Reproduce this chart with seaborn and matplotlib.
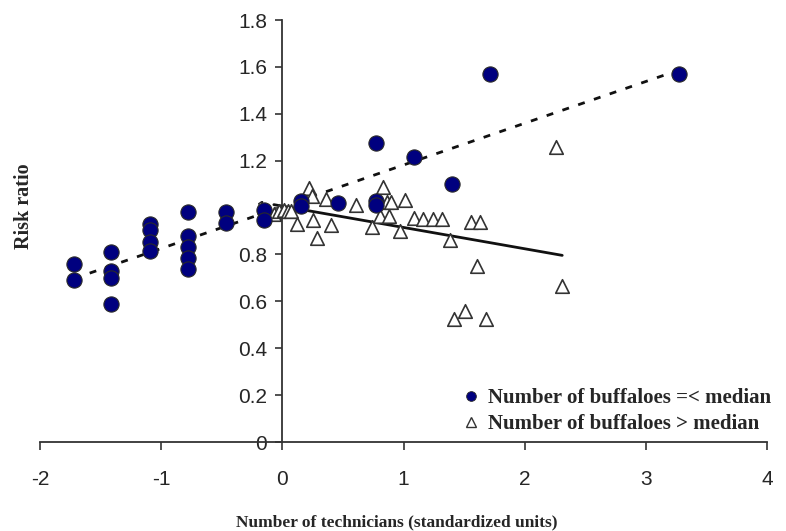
import numpy as np
import pandas as pd
import matplotlib
matplotlib.use("Agg")
import matplotlib.pyplot as plt
from matplotlib.lines import Line2D
from matplotlib.ticker import FuncFormatter
import seaborn as sns

# Number of buffaloes =< median (filled circles)
low_x = [-1.72, -1.72,
         -1.41, -1.41, -1.41, -1.41,
         -1.09, -1.09, -1.09, -1.09,
         -0.78, -0.78, -0.78, -0.78, -0.78,
         -0.465, -0.465,
         -0.155, -0.155,
         0.155, 0.155,
         0.463,
         0.777, 0.777, 0.777,
         1.09, 1.397, 1.713, 3.27]
low_y = [0.76, 0.69,
         0.81, 0.73, 0.70, 0.59,
         0.93, 0.905, 0.855, 0.815,
         0.98, 0.88, 0.83, 0.785, 0.74,
         0.98, 0.935,
         0.99, 0.945,
         1.03, 1.005,
         1.02,
         1.275, 1.03, 1.01,
         1.215, 1.10, 1.57, 1.57]

# Number of buffaloes > median (open triangles)
high_x = [-0.07, -0.025, 0.01, 0.047, 0.074, 0.12, 0.22, 0.245, 0.25, 0.287,
          0.36, 0.405, 0.61, 0.744, 0.81, 0.83, 0.865, 0.898, 0.88, 0.97,
          1.01, 1.085, 1.16, 1.24, 1.32, 1.385, 1.42, 1.507, 1.678, 1.56,
          1.63, 1.61, 2.256, 2.31]
high_y = [0.971, 0.985, 0.99, 0.985, 0.985, 0.93, 1.082, 1.05, 0.947, 0.87,
          1.035, 0.926, 1.011, 0.916, 0.964, 1.087, 1.025, 1.025, 0.964, 0.898,
          1.032, 0.955, 0.951, 0.951, 0.951, 0.86, 0.523, 0.56, 0.523, 0.94,
          0.94, 0.751, 1.257, 0.666]

legend_labels = ["Number of buffaloes =< median", "Number of buffaloes > median"]
x_ticks = [-2, -1, 0, 1, 2, 3, 4]
y_ticks = [0, 0.2, 0.4, 0.6, 0.8, 1.0, 1.2, 1.4, 1.6, 1.8]

low_df = pd.DataFrame({"x": low_x, "y": low_y})
high_df = pd.DataFrame({"x": high_x, "y": high_y})

sns.set_style("white")
plt.rcParams["axes.unicode_minus"] = False
plt.rcParams["font.family"] = ["Liberation Sans", "DejaVu Sans"]

W, H = 786, 531
fig = plt.figure(figsize=(W / 100, H / 100), dpi=100)
ax = fig.add_axes([40 / W, (H - 442) / H, (767 - 40) / W, (442 - 20) / H])

navy = "#00007f"
edge = "#2a2a2a"

# regression lines
sns.regplot(data=low_df, x="x", y="y", ax=ax, scatter=False, ci=None, truncate=True,
            line_kws=dict(color="#111111", lw=2.0, linestyle=(0, (2.5, 3.5))))
sns.regplot(data=high_df, x="x", y="y", ax=ax, scatter=False, ci=None, truncate=True,
            line_kws=dict(color="#111111", lw=2.0, linestyle="-"))

sns.scatterplot(data=high_df, x="x", y="y", ax=ax, marker="^", s=95,
                facecolor="white", edgecolor="#333333", linewidth=1.2, zorder=3)
sns.scatterplot(data=low_df, x="x", y="y", ax=ax, marker="o", s=120,
                color=navy, edgecolor=edge, linewidth=0.8, zorder=4)

ax.set_xlim(-2, 4)
ax.set_ylim(0, 1.8)
ax.set_xticks(x_ticks)
ax.set_yticks(y_ticks)
ax.yaxis.set_major_formatter(FuncFormatter(lambda v, p: f"{v:g}"))

for s in ["top", "right"]:
    ax.spines[s].set_visible(False)
ax.spines["left"].set_position(("data", 0))
ax.spines["bottom"].set_position(("data", 0))
for s in ["left", "bottom"]:
    ax.spines[s].set_color("#333333")
    ax.spines[s].set_linewidth(1.3)

ax.tick_params(axis="x", direction="out", length=6, width=1.2, color="#333333",
               labelsize=15, pad=14, bottom=True)
ax.tick_params(axis="y", direction="out", length=5, width=1.2, color="#333333",
               labelsize=15, pad=6, left=True)

ax.set_xlabel("")
ax.set_ylabel("")
serif_bold = dict(family=["Liberation Serif", "DejaVu Serif"], weight="bold")
fig.text(397 / W, 1 - 522 / H, "Number of technicians (standardized units)",
         ha="center", va="center", fontsize=12.5, **serif_bold)
fig.text(24 / W, 1 - 206 / H, "Risk ratio", rotation=90,
         ha="center", va="center", fontsize=14.5, **serif_bold)

handles = [
    Line2D([], [], marker="o", linestyle="", markersize=7, markerfacecolor=navy,
           markeredgecolor=edge, markeredgewidth=0.6),
    Line2D([], [], marker="^", linestyle="", markersize=7, markerfacecolor="white",
           markeredgecolor="#333333", markeredgewidth=1.0),
]
leg = fig.legend(handles, legend_labels, loc="upper left",
                 bbox_to_anchor=(463 / W, 1 - 388 / H), frameon=False,
                 handlelength=0.8, handletextpad=0.4, labelspacing=0.3,
                 borderpad=0, borderaxespad=0,
                 prop=dict(family=["Liberation Serif", "DejaVu Serif"], weight="bold", size=15))

fig.savefig("out.png", dpi=100)
